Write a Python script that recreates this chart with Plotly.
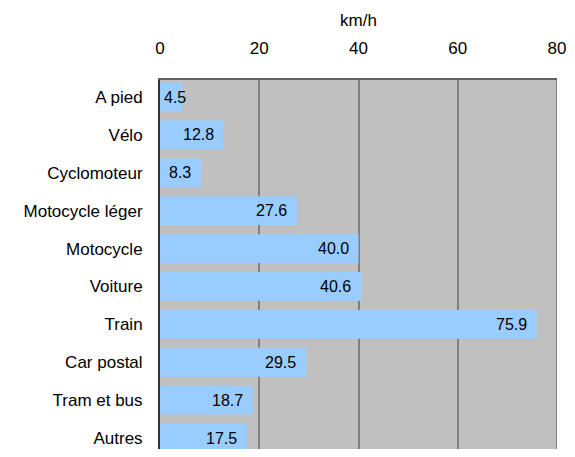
import plotly.graph_objects as go

categories = ["A pied", "Vélo", "Cyclomoteur", "Motocycle léger", "Motocycle",
              "Voiture", "Train", "Car postal", "Tram et bus", "Autres"]
speeds = [4.5, 12.8, 8.3, 27.6, 40.0, 40.6, 75.9, 29.5, 18.7, 17.5]
labels = [f"{v:.1f}" for v in speeds]

FONT = "Liberation Sans, Arial, sans-serif"

fig = go.Figure(
    go.Bar(
        x=speeds,
        y=categories,
        orientation="h",
        marker=dict(color="#99ccff", line=dict(width=0)),
        width=0.76,
        hoverinfo="skip",
    )
)

# value labels at the end of each bar (short bars: start at the axis)
for cat, v, lab in zip(categories, speeds, labels):
    short = v < 6
    fig.add_annotation(
        x=0 if short else v, y=cat, xref="x", yref="y",
        text=lab, showarrow=False,
        xanchor="left" if short else "right",
        xshift=2 if short else -8,
        font=dict(family=FONT, size=16, color="black"),
    )

# page body has an 8px margin, so the figure is sized to fit inside the window
fig.update_layout(
    width=559,
    height=441,
    margin=dict(l=152, r=10, t=72, b=0, autoexpand=False),
    paper_bgcolor="white",
    plot_bgcolor="#c0c0c0",
    showlegend=False,
    font=dict(family=FONT, size=17, color="black"),
    xaxis=dict(
        side="top",
        range=[0, 80],
        dtick=20,
        showgrid=True,
        gridcolor="#808080",
        gridwidth=2,
        zeroline=False,
        showline=True,
        linecolor="#606060",
        linewidth=2,
        ticks="",
        ticklabelstandoff=17,
        ticklabeloverflow="allow",
        automargin=False,
        title=dict(text="km/h", font=dict(size=17), standoff=8),
    ),
    yaxis=dict(
        categoryorder="array",
        categoryarray=categories,
        range=[9.29, -0.449],
        showgrid=False,
        zeroline=False,
        showline=True,
        linecolor="#333333",
        linewidth=2,
        ticks="",
        ticklabelstandoff=12,
        ticklabeloverflow="allow",
        automargin=False,
    ),
)

# right border of the plot area
fig.add_shape(type="line", xref="x", yref="paper", x0=80, x1=80, y0=0, y1=1,
              line=dict(color="#808080", width=2))

fig.write_html("out.html")
